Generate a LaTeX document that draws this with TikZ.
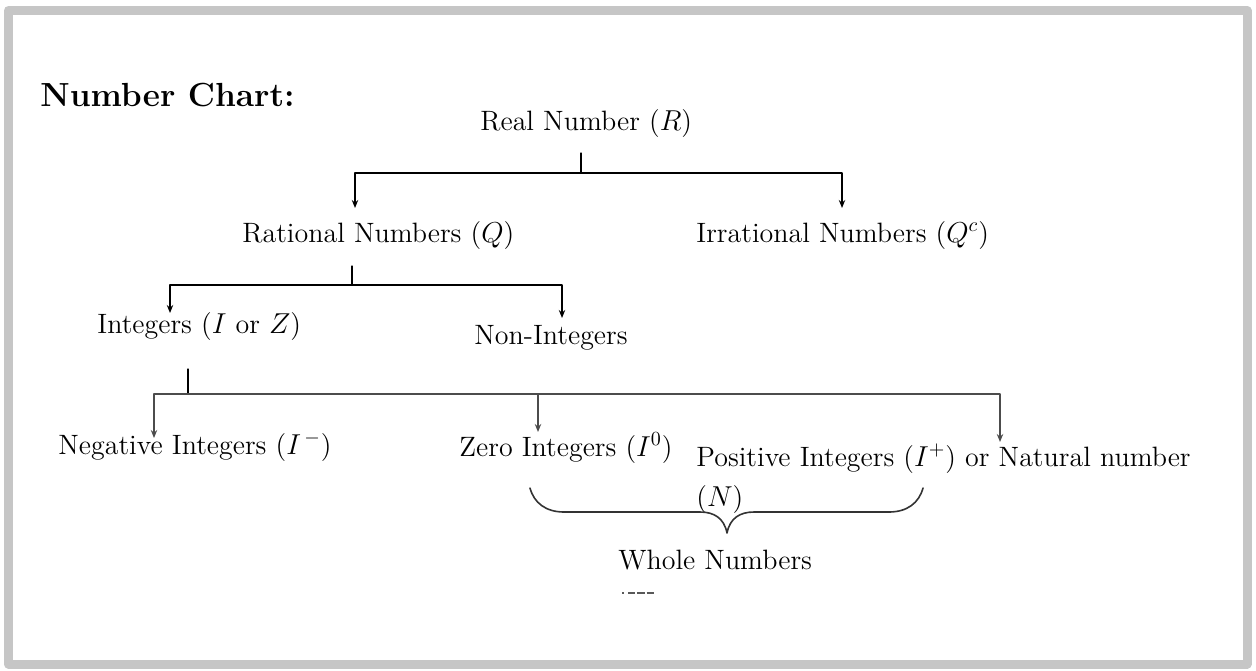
\documentclass[tikz,border=0pt]{standalone}
\usetikzlibrary{arrows.meta}
\begin{document}
\begin{tikzpicture}[x=0.5pt,y=-0.5pt,line join=round,line cap=round,
  >={Stealth[length=4pt,width=3.2pt]},
  lbl/.style={anchor=base west,inner sep=0pt,font=\fontsize{14}{20}\selectfont},
  link/.style={line width=0.65pt},
  lowlink/.style={line width=0.9pt,black!70}]
\useasboundingbox (0,0) rectangle (1256,670);
\draw[line width=4.5pt,gray!45] (8.5,10.5) rectangle (1247,664);
% labels
\node[anchor=base west,inner sep=0pt,font=\fontsize{16.7}{20}\selectfont\bfseries] (title) at (40,106) {Number Chart:};
\node[lbl] (real) at (480,130) {Real Number ($R$)};
\node[lbl] (rational) at (242,242) {Rational Numbers ($Q$)};
\node[lbl] (irrational) at (696,242) {Irrational Numbers ($Q^{c}$)};
\node[lbl] (integers) at (97,333) {Integers ($I$ or $Z$)};
\node[lbl] (nonint) at (474,344) {Non-Integers};
\node[lbl] (negative) at (58,454) {Negative Integers ($I^{\,-}$)};
\node[lbl] (zero) at (459,456) {Zero Integers ($I^{0}$)};
\node[lbl,align=left] (positive) at (696,506) {Positive Integers ($I^{+}$) or Natural number\\($N$)};
\node[lbl] (whole) at (618,569) {Whole Numbers};
% junctions and arrow tips
\path
(581,153) coordinate (R0)
(581,173) coordinate (R1)
(355,208) coordinate (RatIn)
(842,208) coordinate (IrrIn)
(352,266) coordinate (Q0)
(352,285) coordinate (Q1)
(170,313) coordinate (IntIn)
(562,318) coordinate (NonIn)
(188,369) coordinate (I0)
(188,394) coordinate (I1)
(154,438) coordinate (NegIn)
(538,432) coordinate (ZeroIn)
(1000,442) coordinate (PosIn);
\draw[link] (R0) -- (R1);
\foreach \t in {RatIn, IrrIn} \draw[link,->] (R1) -| (\t);
\draw[link] (Q0) -- (Q1);
\foreach \t in {IntIn, NonIn} \draw[link,->] (Q1) -| (\t);
\draw[link] (I0) -- (I1);
\foreach \t in {NegIn, ZeroIn, PosIn} \draw[lowlink,->] (I1) -| (\t);
% brace
\path (530,488) coordinate (B0) (727,533) coordinate (Bm) (923,488) coordinate (B1);
\draw[line width=0.8pt,black!80] (B0) .. controls (534,503) and (546,512) .. (564,512) -- (700,512)
  .. controls (714,512) and (724,518) .. (Bm) .. controls (730,518) and (740,512) .. (754,512)
  -- (889,512) .. controls (907,512) and (919,503) .. (B1);
\draw[black!65,line width=0.9pt,line cap=butt,dash pattern=on 0.9pt off 2.2pt on 3.6pt off 1pt on 3.6pt off 1pt on 3.6pt off 20pt] (622,593) -- (657,593);
\end{tikzpicture}
\end{document}
